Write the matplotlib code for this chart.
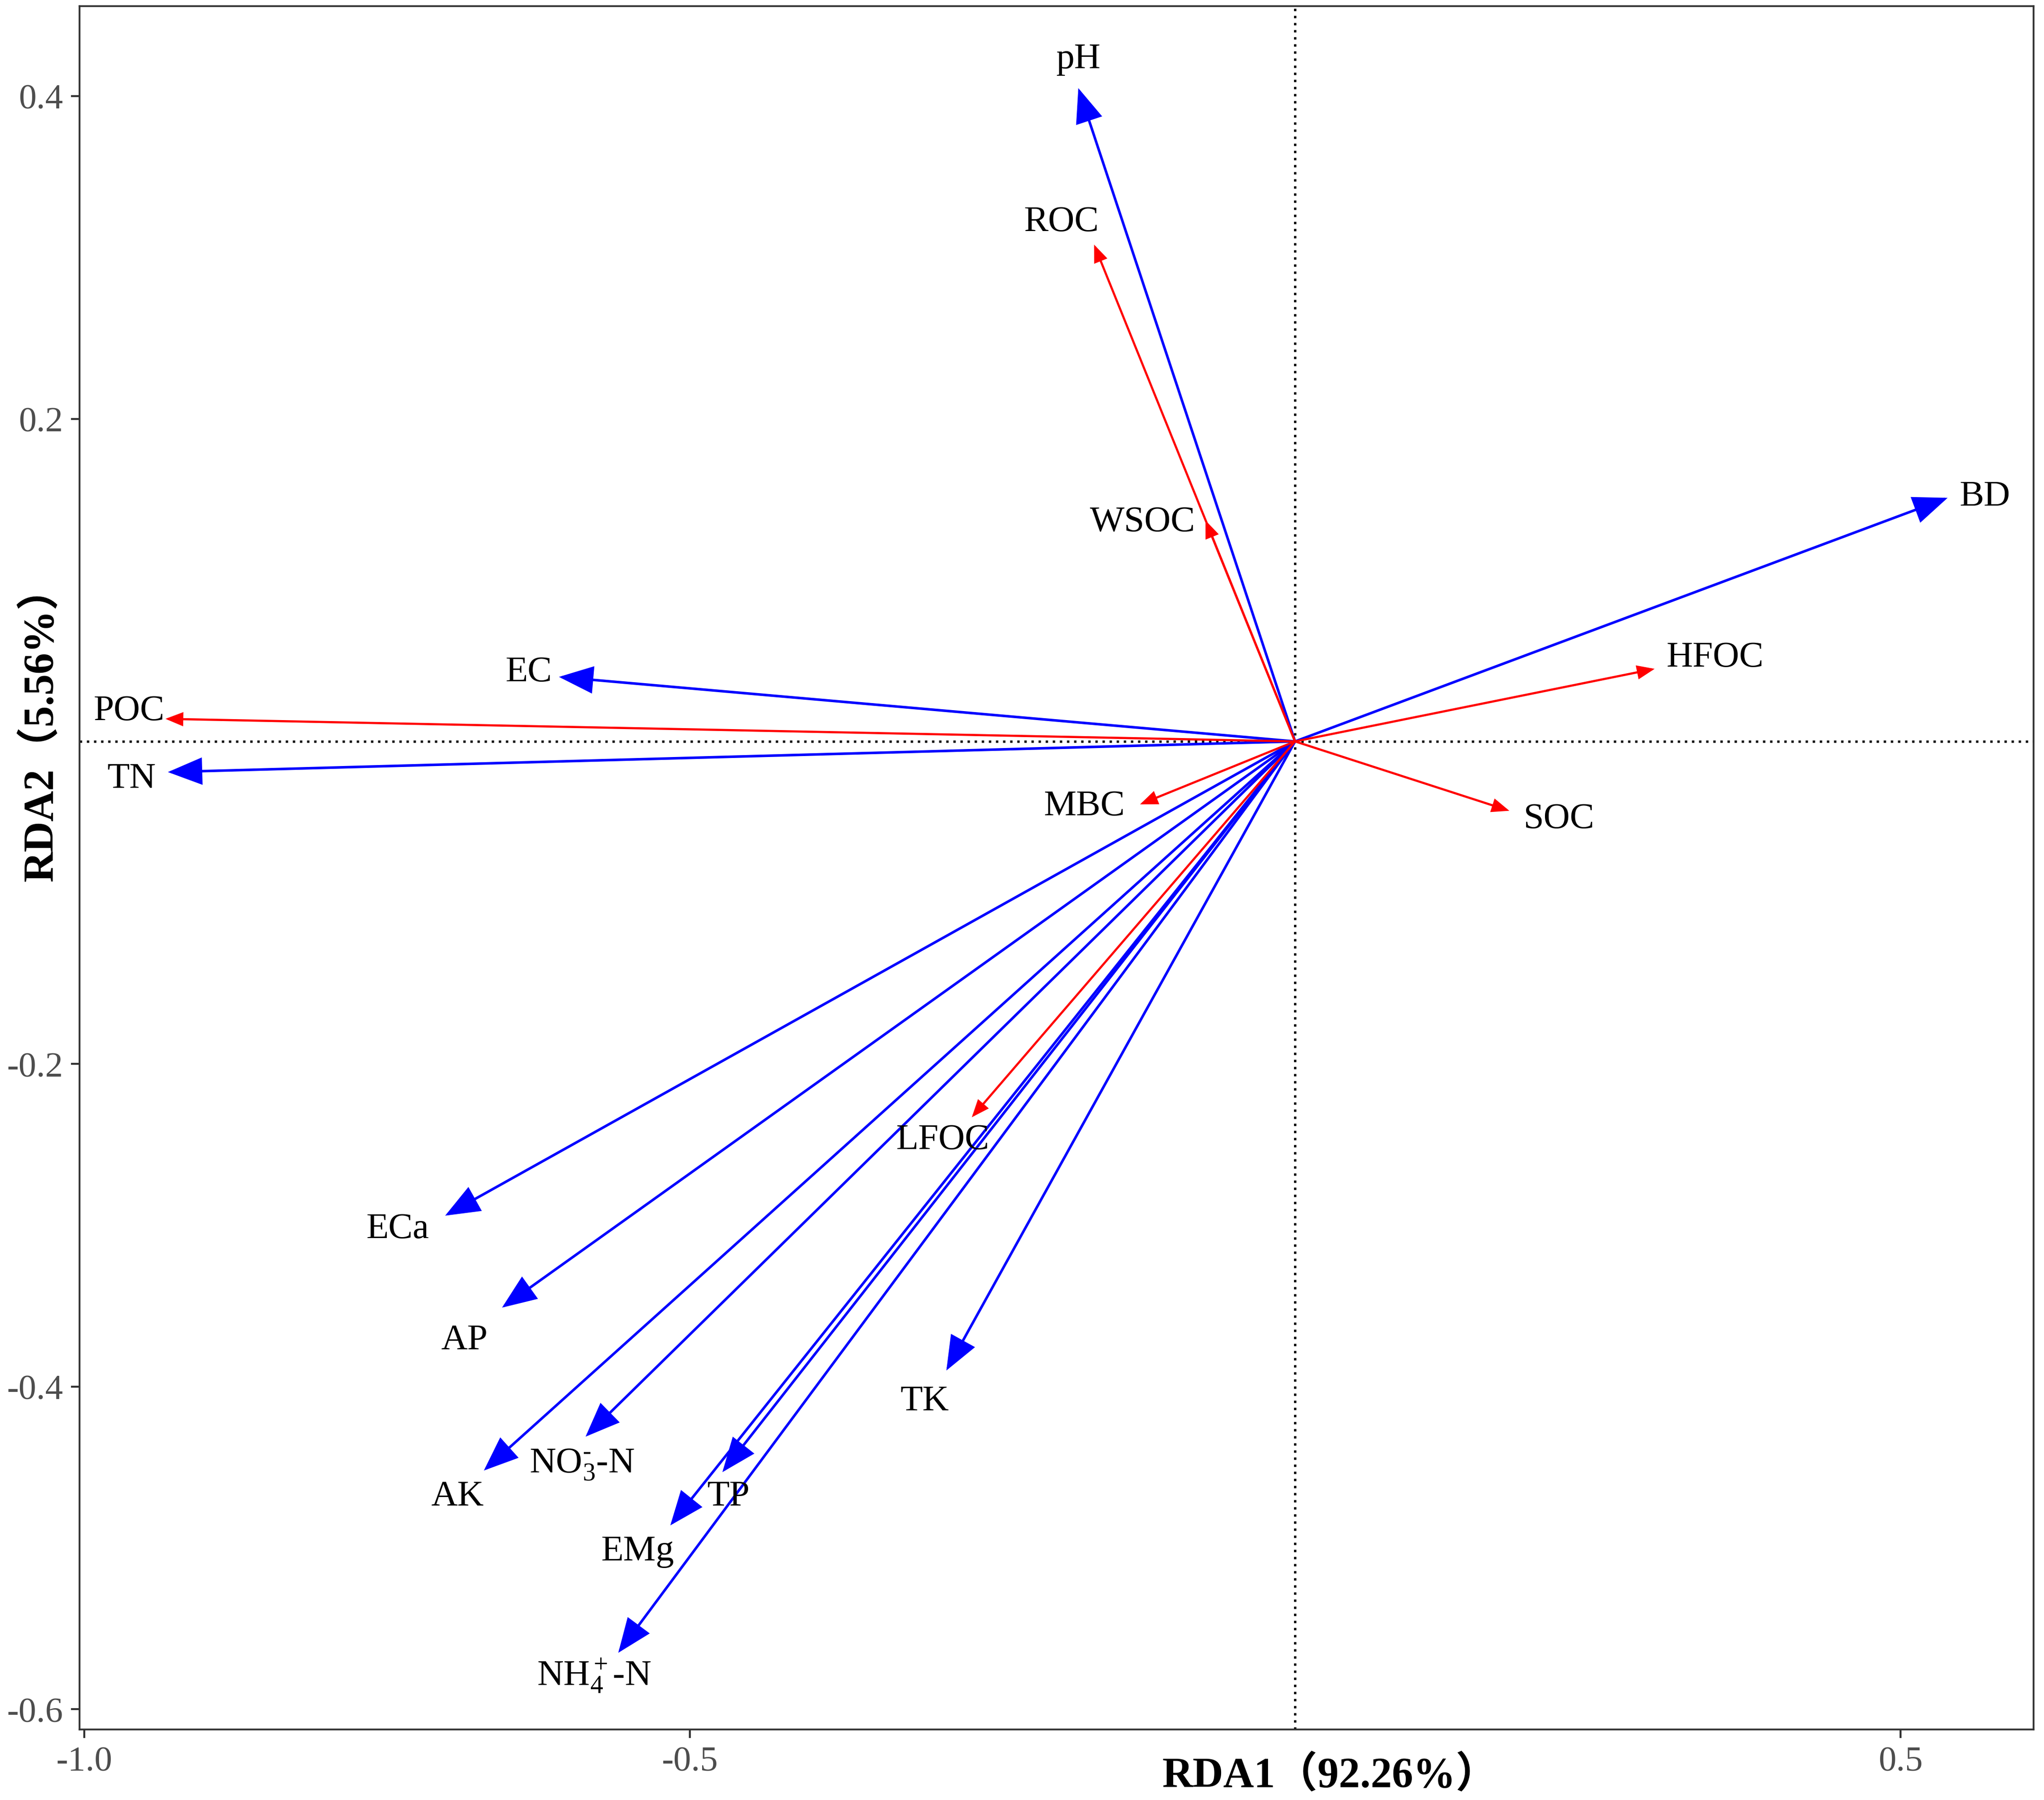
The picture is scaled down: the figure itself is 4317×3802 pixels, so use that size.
import matplotlib
matplotlib.use("Agg")
import matplotlib.pyplot as plt
from matplotlib.patches import FancyArrowPatch
from matplotlib.transforms import blended_transform_factory

plt.rcParams['font.family'] = ['Liberation Serif', 'Noto Sans CJK SC']
plt.rcParams['mathtext.fontset'] = 'custom'
plt.rcParams['mathtext.rm'] = 'Liberation Serif'
plt.rcParams['mathtext.it'] = 'Liberation Serif:italic'
plt.rcParams['mathtext.bf'] = 'Liberation Serif:bold'

# 有机碳组分（红色箭头）
carbon_names = ['ROC', 'WSOC', 'HFOC', 'POC', 'MBC', 'SOC', 'LFOC']
carbon_rda1 = [-0.166, -0.074, 0.297, -0.933, -0.128, 0.177, -0.267]
carbon_rda2 = [0.308, 0.137, 0.045, 0.014, -0.039, -0.043, -0.233]
carbon_lab_x = [-0.193, -0.126, 0.347, -0.963, -0.174, 0.218, -0.291]
carbon_lab_y = [0.322, 0.136, 0.052, 0.019, -0.040, -0.048, -0.247]

# 土壤环境因子（蓝色箭头）
env_names = ['pH', 'BD', 'EC', 'TN', 'ECa', 'AP', 'TK', 'AK',
             'NO$_3^{\\text{-}}$-N', 'TP', 'EMg', 'NH$_4^+$-N']
env_rda1 = [-0.179, 0.539, -0.608, -0.931, -0.702, -0.655, -0.288, -0.670,
            -0.586, -0.473, -0.516, -0.559]
env_rda2 = [0.405, 0.151, 0.040, -0.019, -0.294, -0.351, -0.390, -0.452,
            -0.431, -0.453, -0.486, -0.565]
env_lab_x = [-0.179, 0.570, -0.633, -0.961, -0.741, -0.686, -0.306, -0.692,
             -0.589, -0.468, -0.543, -0.579]
env_lab_y = [0.423, 0.152, 0.043, -0.023, -0.302, -0.371, -0.409, -0.468,
             -0.448, -0.468, -0.502, -0.579]

x_ticks = [-1.0, -0.5, 0.5]
y_ticks = [-0.6, -0.4, -0.2, 0.2, 0.4]

fig = plt.figure(figsize=(4317 / 300, 3803 / 300), dpi=300)
ax = fig.add_axes([0.0389, 0.0392, 0.9949 - 0.0389, 0.9963 - 0.0392])

ax.set_xlim(-1.004, 0.610)
ax.set_ylim(-0.6125, 0.4558)

ax.axhline(0, color='black', linestyle=(0, (1, 2)), linewidth=1.2, zorder=1)
ax.axvline(0, color='black', linestyle=(0, (1, 2)), linewidth=1.2, zorder=1)


def draw_arrows(xs, ys, color, lw, hl, hw):
    for x, y in zip(xs, ys):
        arr = FancyArrowPatch((0, 0), (x, y),
                              arrowstyle=f'-|>,head_length={hl},head_width={hw}',
                              mutation_scale=1, color=color, linewidth=lw,
                              shrinkA=0, shrinkB=0, joinstyle='miter', zorder=3)
        ax.add_patch(arr)


draw_arrows(env_rda1, env_rda2, '#0000FF', 1.3, 15, 6)
draw_arrows(carbon_rda1, carbon_rda2, '#FF0000', 1.1, 7, 2.8)

for name, x, y in zip(env_names + carbon_names, env_lab_x + carbon_lab_x,
                      env_lab_y + carbon_lab_y):
    ax.text(x, y, name, ha='center', va='center', fontsize=18.5,
            color='black', zorder=4)

ax.set_xticks(x_ticks)
ax.set_xticklabels(['-1.0', '-0.5', '0.5'])
ax.set_yticks(y_ticks)
ax.set_yticklabels(['-0.6', '-0.4', '-0.2', '0.2', '0.4'])
ax.tick_params(length=4.4, width=1.0, color='#333333', labelcolor='#4D4D4D',
               labelsize=18, pad=4)
for sp in ax.spines.values():
    sp.set_color('#333333')
    sp.set_linewidth(0.9)

ax.set_xlabel('RDA1（92.26%）', fontsize=21.5, fontweight='bold', va='center')
ax.xaxis.set_label_coords(0.029, 1 - 3750 / 3803,
                          transform=blended_transform_factory(ax.transData, fig.transFigure))
ax.set_ylabel('RDA2（5.56%）', fontsize=21.5, fontweight='bold', va='center')
ax.yaxis.set_label_coords(86 / 4317, 0.011,
                          transform=blended_transform_factory(fig.transFigure, ax.transData))

fig.savefig('out.png', dpi=300, facecolor='white')
